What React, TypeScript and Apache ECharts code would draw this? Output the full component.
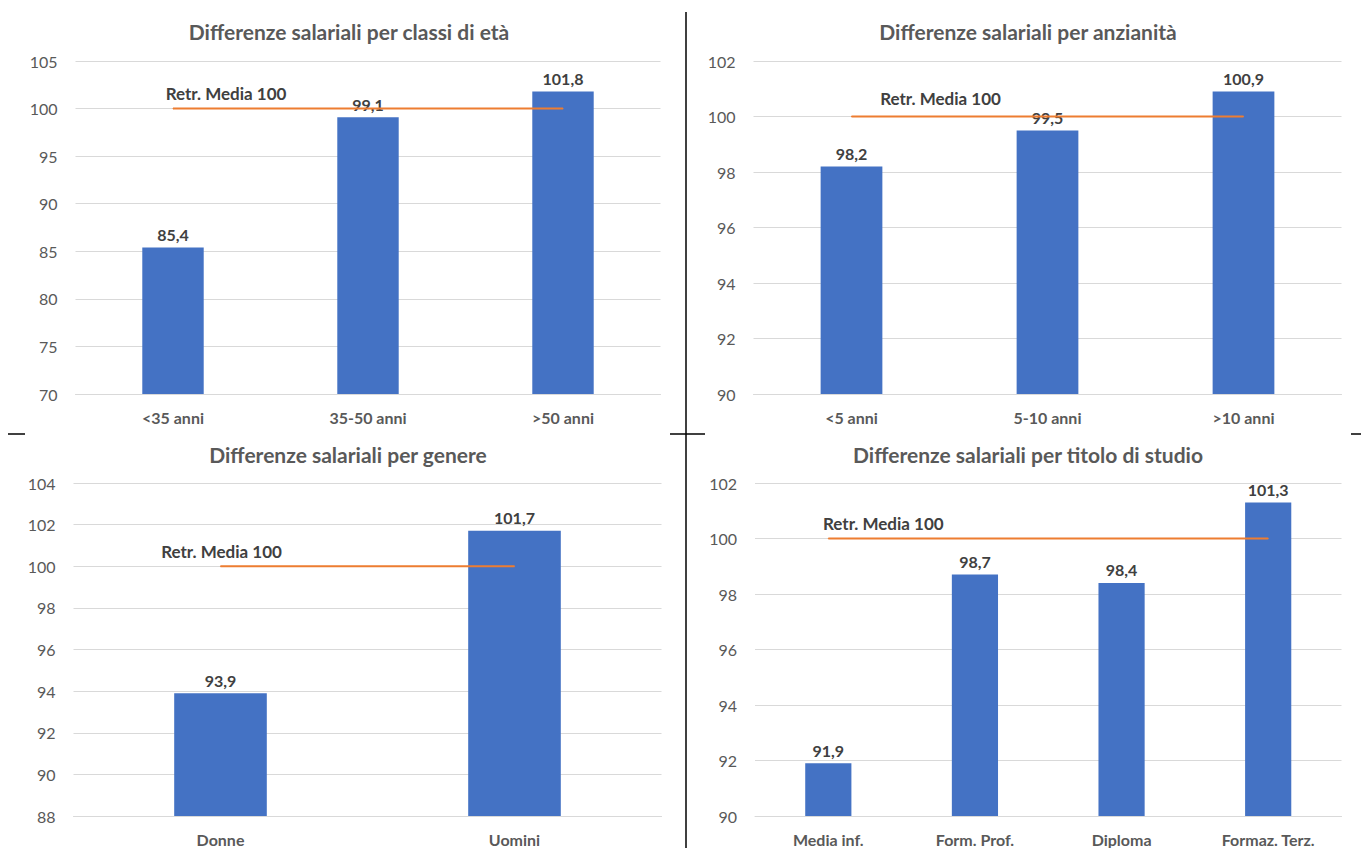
import React, { useEffect, useRef } from "react";
import * as echarts from "echarts";

// Pay gaps, index 100 = average pay
const etaCategories = ["<35 anni", "35-50 anni", ">50 anni"];
const etaValues = [85.4, 99.1, 101.8];

const anzianitaCategories = ["<5 anni", "5-10 anni", ">10 anni"];
const anzianitaValues = [98.2, 99.5, 100.9];

const genereCategories = ["Donne", "Uomini"];
const genereValues = [93.9, 101.7];

const studioCategories = ["Media inf.", "Form. Prof.", "Diploma", "Formaz. Terz."];
const studioValues = [91.9, 98.7, 98.4, 101.3];

const titles = [
  "Differenze salariali per classi di età",
  "Differenze salariali per anzianità",
  "Differenze salariali per genere",
  "Differenze salariali per titolo di studio",
];

const mediaValue = 100;
const mediaLabel = "Retr. Media 100";

// y-axis ranges: [min, max, interval]
const yRanges = [
  [70, 105, 5],
  [90, 102, 2],
  [88, 104, 2],
  [90, 102, 2],
];

const FONT = "Lato, 'Open Sans', sans-serif";
const BAR = "#4472C4";
const LINE = "#ED7D31";
const GRID = "#D9D9D9";
const AXIS_TEXT = "#595959";
const LABEL_TEXT = "#404040";

const fmt = (v: number) => v.toFixed(1).replace(".", ",");

export default function App() {
  const ref = useRef<HTMLDivElement>(null);

  useEffect(() => {
    if (!ref.current) return;
    const chart = echarts.init(ref.current, undefined, { renderer: "svg" });

    const panels = [
      { cats: etaCategories, vals: etaValues, grid: { left: 75.5, top: 61, width: 585, height: 333 }, title: [349, 21], lab: [53, 0] },
      { cats: anzianitaCategories, vals: anzianitaValues, grid: { left: 753.5, top: 61, width: 588, height: 333 }, title: [1028, 21], lab: [89, -3] },
      { cats: genereCategories, vals: genereValues, grid: { left: 73.5, top: 483, width: 588, height: 333 }, title: [348, 444], lab: [1, 0] },
      { cats: studioCategories, vals: studioValues, grid: { left: 755, top: 483, width: 586.5, height: 333 }, title: [1028, 444], lab: [55, 0] },
    ];

    const option: any = {
      animation: false,
      backgroundColor: "#ffffff",
      textStyle: { fontFamily: FONT },
      title: panels.map((p, i) => ({
        text: titles[i],
        left: p.title[0],
        top: p.title[1],
        textAlign: "center",
        padding: 0,
        textStyle: { fontFamily: FONT, fontSize: 21, fontWeight: "bold", color: AXIS_TEXT },
      })),
      grid: panels.map((p) => p.grid),
      xAxis: panels.map((p, i) => ({
        type: "category",
        gridIndex: i,
        data: p.cats,
        boundaryGap: true,
        axisLine: { show: true, lineStyle: { color: GRID, width: 1 } },
        axisTick: { show: false },
        axisLabel: {
          fontFamily: FONT,
          fontSize: 16,
          fontWeight: "bold",
          color: AXIS_TEXT,
          margin: 15,
        },
      })),
      yAxis: panels.map((p, i) => ({
        type: "value",
        gridIndex: i,
        min: yRanges[i][0],
        max: yRanges[i][1],
        interval: yRanges[i][2],
        axisLine: { show: false },
        axisTick: { show: false },
        splitLine: { lineStyle: { color: GRID, width: 1 } },
        axisLabel: { fontFamily: FONT, fontSize: 16, color: AXIS_TEXT, margin: 18 },
      })),
      series: panels.flatMap((p, i) => [
        {
          type: "bar",
          xAxisIndex: i,
          yAxisIndex: i,
          data: p.vals,
          barWidth: "31.5%",
          itemStyle: { color: BAR },
          label: {
            show: true,
            position: "top",
            distance: 5,
            formatter: (d: any) => fmt(d.value),
            fontFamily: FONT,
            fontSize: 16,
            fontWeight: "bold",
            color: LABEL_TEXT,
          },
          z: 2,
        },
        {
          type: "line",
          xAxisIndex: i,
          yAxisIndex: i,
          symbol: "circle",
          symbolSize: 1,
          showSymbol: true,
          itemStyle: { color: LINE },
          lineStyle: { color: LINE, width: 2 },
          label: { show: false },
          data: p.cats.map((_, k) =>
            k === 0
              ? {
                  value: mediaValue,
                  label: {
                    show: true,
                    position: "top",
                    distance: 6,
                    offset: p.lab,
                    formatter: mediaLabel,
                    fontFamily: FONT,
                    fontSize: 17,
                    fontWeight: "bold",
                    color: LABEL_TEXT,
                  },
                }
              : mediaValue
          ),
          z: 3,
        },
      ]),
      graphic: [
        { type: "line", shape: { x1: 686, y1: 12, x2: 686, y2: 848 }, style: { stroke: "#000", lineWidth: 1.5 } },
        { type: "line", shape: { x1: 8, y1: 434, x2: 25, y2: 434 }, style: { stroke: "#000", lineWidth: 1.5 } },
        { type: "line", shape: { x1: 670, y1: 434, x2: 705, y2: 434 }, style: { stroke: "#000", lineWidth: 1.5 } },
        { type: "line", shape: { x1: 1351, y1: 434, x2: 1361, y2: 434 }, style: { stroke: "#000", lineWidth: 1.5 } },
      ],
    };

    chart.setOption(option);
    return () => chart.dispose();
  }, []);

  return (
    <div
      ref={ref}
      style={{ position: "fixed", left: 0, top: 0, width: 1361, height: 848, background: "#fff" }}
    />
  );
}
